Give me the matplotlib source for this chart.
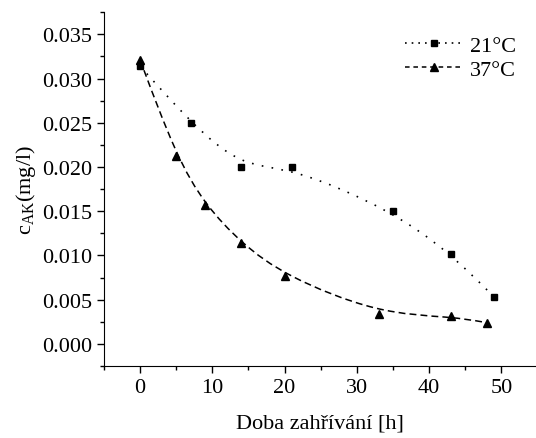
import numpy as np
import matplotlib
matplotlib.use("Agg")
import matplotlib.pyplot as plt
from matplotlib.path import Path
from matplotlib.patches import PathPatch
from matplotlib.lines import Line2D
from matplotlib.ticker import MultipleLocator

plt.rcParams["font.family"] = ["Liberation Serif", "DejaVu Serif"]
plt.rcParams["mathtext.fontset"] = "custom"
plt.rcParams["mathtext.rm"] = "Liberation Serif"

# heating time [h] and concentration [mg/l]
t21 = [0, 7, 14, 21, 35, 43, 49]
c21 = [0.0314, 0.0250, 0.0200, 0.0200, 0.0150, 0.0102, 0.0053]
t37 = [0, 5, 9, 14, 20, 33, 43, 48]
c37 = [0.0321, 0.0212, 0.0157, 0.0114, 0.0077, 0.0034, 0.0031, 0.0024]


def bspline_path(x, y):
    # clamped cubic b-spline with the measured points as control points,
    # each span written out as a bezier segment
    p = np.column_stack([x, y]).astype(float)
    q = np.vstack([p[:1], p[:1], p, p[-1:], p[-1:]])
    verts = [tuple(p[0])]
    codes = [Path.MOVETO]
    for i in range(len(q) - 3):
        p0, p1, p2, p3 = q[i], q[i + 1], q[i + 2], q[i + 3]
        verts += [tuple((4 * p1 + 2 * p2) / 6),
                  tuple((2 * p1 + 4 * p2) / 6),
                  tuple((p1 + 4 * p2 + p3) / 6)]
        codes += [Path.CURVE4] * 3
    return Path(verts, codes)


dotted = (0, (1, 5))
dashed = (0, (4.5, 2.7))

fig = plt.figure(figsize=(5.36, 4.39), dpi=100)
ax = fig.add_axes([0.194, 0.164, 0.806, 0.806])

ax.add_patch(PathPatch(bspline_path(t21, c21), fill=False, ls=dotted, lw=1.2, color="k"))
ax.add_patch(PathPatch(bspline_path(t37, c37), fill=False, ls=dashed, lw=1.1, color="k"))
ax.plot(t21, c21, "s", color="k", ms=5)
ax.plot(t37, c37, "^", color="k", ms=6)

ax.set_xlim(-5, 54.8)
ax.set_ylim(-0.0025, 0.0375)
ax.xaxis.set_major_locator(MultipleLocator(10))
ax.xaxis.set_minor_locator(MultipleLocator(5))
ax.yaxis.set_major_locator(MultipleLocator(0.005))
ax.yaxis.set_minor_locator(MultipleLocator(0.0025))
ax.yaxis.set_major_formatter(plt.FormatStrFormatter("%.3f"))

for s in ["top", "right"]:
    ax.spines[s].set_visible(False)
ax.tick_params(which="major", direction="out", length=5, width=1, labelsize=16)
ax.tick_params(which="minor", direction="out", length=3, width=1)

ax.set_xlabel("Doba zahřívání [h]", fontsize=16, labelpad=12)
ax.set_ylabel(r"c$_{\mathrm{AK}}$(mg/l)", fontsize=16, labelpad=3)

handles = [
    Line2D([], [], color="k", ls=(0, (1, 3)), lw=1.2, marker="s", ms=5),
    Line2D([], [], color="k", ls=(0, (3, 2.5)), lw=1.1, marker="^", ms=6),
]
ax.legend(handles, ["21°C", "37°C"], loc="upper right", bbox_to_anchor=(1.0, 0.99),
          frameon=False, fontsize=16, handlelength=2.6, handletextpad=0.3,
          labelspacing=0.15)

fig.savefig("out.png", dpi=100)
